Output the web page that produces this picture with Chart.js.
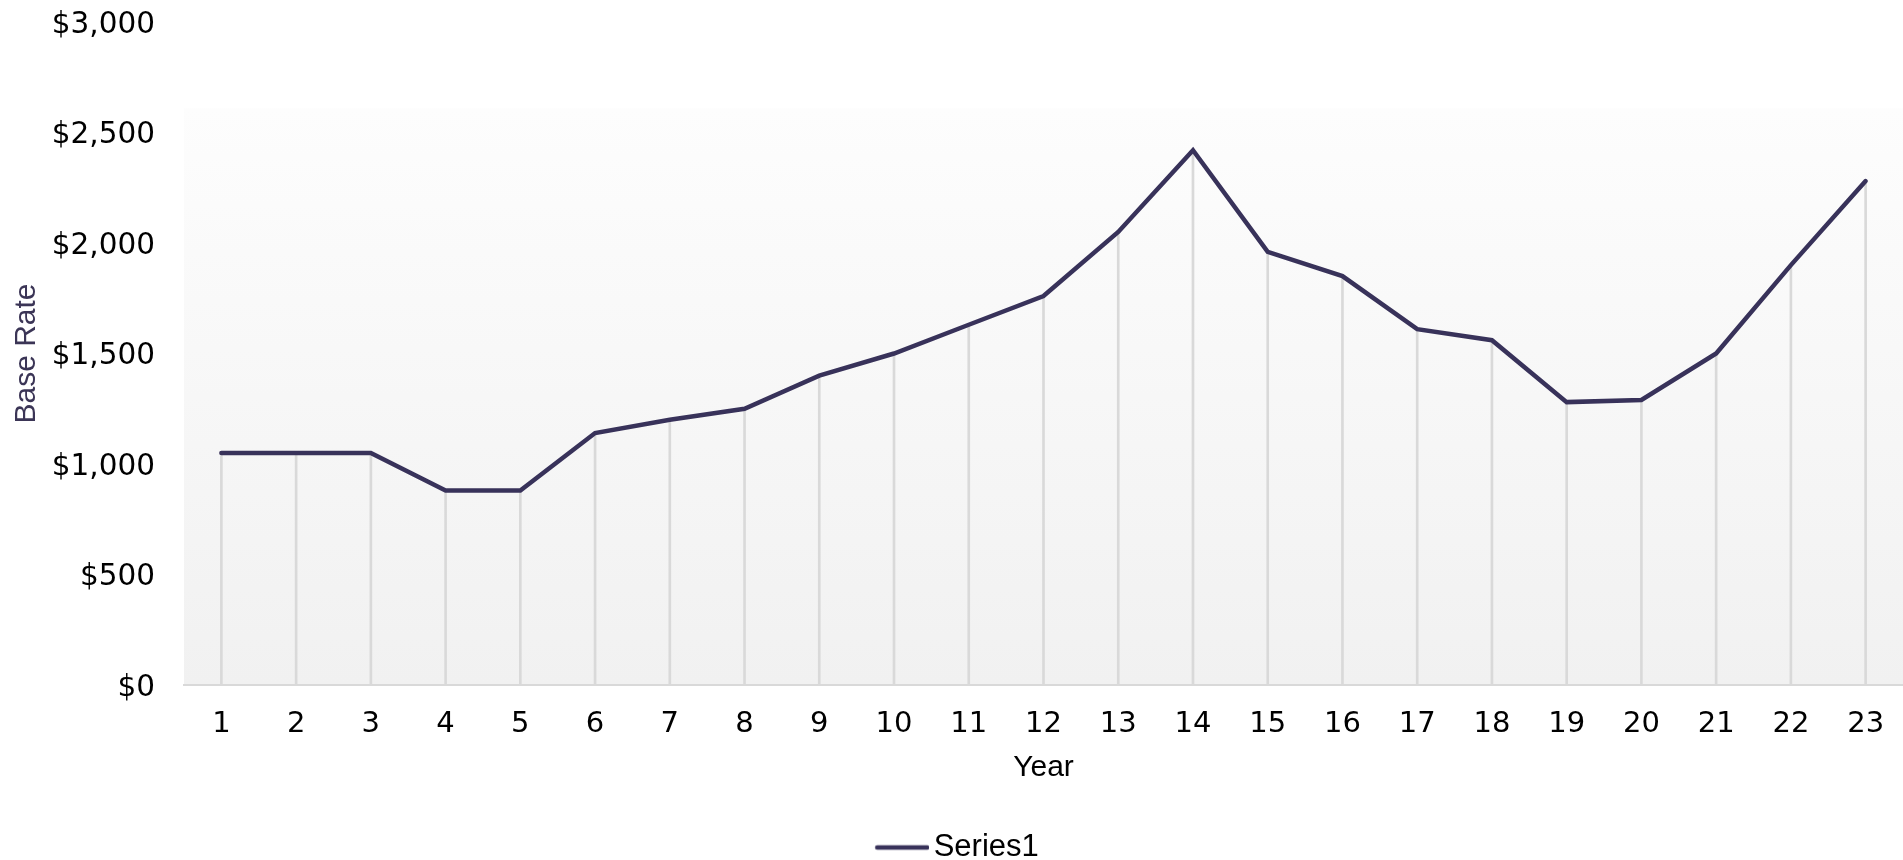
<!DOCTYPE html>
<html>
<head>
<meta charset="utf-8">
<title>Base Rate by Year</title>
<script src="https://cdn.jsdelivr.net/npm/chart.js@4.4.1/dist/chart.umd.min.js"></script>
<style>
  html, body { margin: 0; padding: 0; background: #ffffff; }
  #wrap { width: 1903px; height: 860px; }
</style>
</head>
<body>
<div id="wrap"><canvas id="chart" width="1903" height="860"></canvas></div>
<script>
// Year index along the category axis
const years = ['1','2','3','4','5','6','7','8','9','10','11','12','13','14','15','16','17','18','19','20','21','22','23'];
// Base rate for each year (dollars)
const baseRate = [1050, 1050, 1050, 880, 880, 1140, 1200, 1250, 1400, 1500, 1630, 1760, 2050, 2420, 1960, 1850, 1610, 1560, 1280, 1290, 1500, 1900, 2280];
// Value-axis range and step
const yMin = 0;
const yMax = 3000;
const yStep = 500;

const LINE_COLOR = '#38325a';
const LINE_WIDTH = 4.5;

// Legend swatch: a short line that reaches close to the label text
function legendSwatch() {
  const c = document.createElement('canvas');
  c.width = 76;
  c.height = 8;
  const g = c.getContext('2d');
  g.strokeStyle = LINE_COLOR;
  g.lineWidth = LINE_WIDTH;
  g.lineCap = 'round';
  g.beginPath();
  g.moveTo(24, 4);
  g.lineTo(74, 4);
  g.stroke();
  return c;
}
const swatch = legendSwatch();

// Plot-area fill: white fading to light grey, starting a little below the top of the value axis
const plotBackground = {
  id: 'plotBackground',
  beforeDraw(chart) {
    const { ctx, chartArea: a } = chart;
    ctx.save();
    ctx.fillStyle = '#ffffff';
    ctx.fillRect(0, 0, chart.width, chart.height);
    const top = a.top + (a.bottom - a.top) * 0.13;
    const g = ctx.createLinearGradient(0, top, 0, a.bottom);
    g.addColorStop(0, '#fdfdfd');
    g.addColorStop(1, '#f1f1f1');
    ctx.fillStyle = g;
    ctx.fillRect(a.left, top, a.right - a.left, a.bottom - top);
    ctx.restore();
  }
};

new Chart(document.getElementById('chart'), {
  data: {
    labels: years,
    datasets: [
      {
        type: 'line',
        label: 'Series1',
        data: baseRate,
        borderColor: LINE_COLOR,
        backgroundColor: LINE_COLOR,
        borderWidth: LINE_WIDTH,
        pointRadius: 0,
        pointHoverRadius: 0,
        tension: 0,
        fill: false,
        borderCapStyle: 'round',
        pointStyle: swatch,
        order: 0
      },
      {
        // thin drop lines from the axis up to each point
        type: 'bar',
        label: 'drop',
        data: baseRate,
        backgroundColor: '#d9d9d9',
        borderWidth: 0,
        barThickness: 2,
        order: 1
      }
    ]
  },
  options: {
    responsive: false,
    animation: false,
    events: [],
    layout: { padding: { top: 0, right: 0, bottom: -13, left: 0 } },
    plugins: {
      tooltip: { enabled: false },
      legend: {
        position: 'bottom',
        labels: {
          filter: (item) => item.text === 'Series1',
          usePointStyle: true,
          pointStyleWidth: 54,
          color: '#000000',
          font: { family: 'Liberation Sans', size: 31 },
          padding: 2
        }
      }
    },
    scales: {
      x: {
        type: 'category',
        offset: true,
        grid: { display: false, drawTicks: false },
        border: { display: true, color: '#d9d9d9', width: 2 },
        ticks: { color: '#000000', font: { family: 'DejaVu Sans', size: 29 }, padding: 22, maxRotation: 0, autoSkip: false },
        title: {
          display: true,
          text: 'Year',
          color: '#000000',
          font: { family: 'Liberation Sans', size: 30 },
          padding: { top: 0, bottom: 44 }
        },
        afterFit(scale) {
          scale.height = 145;
          scale.paddingLeft = 0;
          scale.paddingRight = 0;
        }
      },
      y: {
        type: 'linear',
        min: yMin,
        max: yMax,
        grid: { display: false, drawTicks: false },
        border: { display: false },
        ticks: {
          stepSize: yStep,
          color: '#000000',
          font: { family: 'DejaVu Sans', size: 29.5 },
          padding: 29,
          labelOffset: 3,
          callback: (v) => '$' + Number(v).toLocaleString('en-US')
        },
        title: {
          display: true,
          text: 'Base Rate',
          color: '#3b3556',
          font: { family: 'Liberation Sans', size: 30 },
          padding: { top: 9, bottom: 0 }
        },
        afterFit(scale) {
          scale.width = 184;
          scale.paddingTop = 22;
          scale.paddingBottom = 0;
        }
      }
    }
  },
  plugins: [plotBackground]
});
</script>
</body>
</html>
